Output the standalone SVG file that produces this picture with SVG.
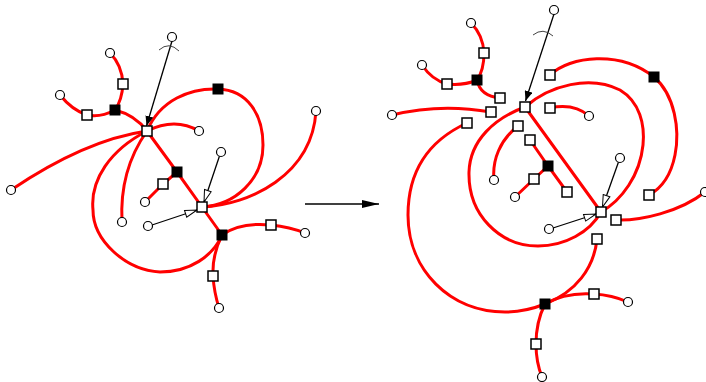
<svg xmlns="http://www.w3.org/2000/svg" width="706" height="382" viewBox="0 0 706 382">
<style>
.e{fill:none;stroke:#ff0000;stroke-width:3;stroke-linecap:round}
.a{fill:none;stroke:#000;stroke-width:1.3}
.t{fill:none;stroke:#444;stroke-width:1}
.o{fill:#fff;stroke:#000;stroke-width:1.5}
.b{fill:#000;stroke:#000;stroke-width:1}
.c{fill:#fff;stroke:#000;stroke-width:1.2}
</style>
<defs>
<marker id="af" viewBox="0 0 10 8" refX="10" refY="4" markerWidth="10" markerHeight="8" orient="auto" markerUnits="userSpaceOnUse"><path d="M0,0 L10,4 L0,8 z" fill="#000"/></marker>
<marker id="ao" viewBox="0 0 14 9" refX="13" refY="4.5" markerWidth="14" markerHeight="9" orient="auto" markerUnits="userSpaceOnUse"><path d="M1,1 L13,4.5 L1,8 z" fill="#fff" stroke="#000" stroke-width="1"/></marker>
<marker id="am" viewBox="0 0 17 8" refX="17" refY="4" markerWidth="17" markerHeight="8" orient="auto" markerUnits="userSpaceOnUse"><path d="M0,0 L17,4 L0,8 z" fill="#000"/></marker>
</defs>
<g id="connectors">
<!-- left diagram -->
<path class="e" d="M60,95 Q72,110 87,115 Q100,118 115,110"/>
<path class="e" d="M110,53 Q122,65 123,84 Q122,100 115,110"/>
<path class="e" d="M115,110 Q135,115 147,131"/>
<path class="e" d="M147,131 Q85,140 11,190"/>
<path class="e" d="M147,131 Q175,117 199,131"/>
<path class="e" d="M147,131 C160,100 190,88 218,89 C248,90 263,115 263,145 C263,180 235,205 202,207"/>
<path class="e" d="M202,207 C250,205 312,175 316,111"/>
<path class="e" d="M147,131 L177,172 L202,207"/>
<path class="e" d="M177,172 L163,184 L145,202"/>
<path class="e" d="M202,207 L222,235"/>
<path class="e" d="M222,235 Q240,222 271,225 Q290,227 305,233"/>
<path class="e" d="M222,235 Q212,255 213,276 Q214,292 219,308"/>
<path class="e" d="M147,131 C130,155 120,185 122,222"/>
<path class="e" d="M147,131 C110,150 90,180 93,210 C93,240 125,270 160,272 C190,272 213,256 222,235"/>
<path class="a" d="M172,41 L146.5,126" marker-end="url(#af)"/>
<path class="a" d="M219.5,156 L204,202" marker-end="url(#ao)"/>
<path class="a" d="M152,225 L197,210" marker-end="url(#ao)"/>
<path class="t" d="M159,50 Q169,41 179,51"/>
<!-- middle arrow -->
<path class="a" d="M305,204 L379,204" marker-end="url(#am)"/>
<!-- right diagram -->
<path class="e" d="M471,23 Q483,35 484,53 Q484,70 477,80"/>
<path class="e" d="M422,65 Q432,80 447,84 Q463,86 477,80"/>
<path class="e" d="M477,80 Q480,96 500,98"/>
<path class="e" d="M392,115 Q440,103 491,112"/>
<path class="e" d="M467,123 C430,140 408,170 408,215 C408,270 450,312 505,312 C520,312 535,308 545,304"/>
<path class="e" d="M525,107 C495,118 470,140 469,172 C468,215 500,246 538,246 C565,246 590,232 601,212"/>
<path class="e" d="M525,107 C550,85 590,75 620,90 C640,102 645,125 643,145 C640,175 622,200 601,212"/>
<path class="e" d="M525,107 L601,212"/>
<path class="e" d="M550,75 C570,56 620,50 654,77 C675,95 680,130 675,155 C671,175 662,188 649,195"/>
<path class="e" d="M550,108 Q574,103 589,116"/>
<path class="e" d="M518,126 C500,140 492,160 494,180"/>
<path class="e" d="M530,140 L548,166 L567,192"/>
<path class="e" d="M548,166 L534,179 L515,197"/>
<path class="e" d="M616,220 C640,221 680,212 705,192"/>
<path class="e" d="M597,239 C594,268 576,292 545,304"/>
<path class="e" d="M545,304 Q565,292 594,294 Q612,295 628,302"/>
<path class="e" d="M545,304 Q536,322 536,344 Q536,362 542,377"/>
<path class="a" d="M554,14 L525.5,101" marker-end="url(#af)"/>
<path class="a" d="M618.5,162 L602.5,207" marker-end="url(#ao)"/>
<path class="a" d="M553,228 L596,214" marker-end="url(#ao)"/>
<path class="t" d="M533,35 Q543,27 553,36"/>
</g>
<!-- left nodes -->
<g id="L-hub1"><rect class="o" x="142" y="126" width="10" height="10"/></g>
<g id="L-hub2"><rect class="o" x="197" y="202" width="10" height="10"/></g>
<g id="L-b1"><rect class="b" x="110" y="105" width="10" height="10"/></g>
<g id="L-s1"><rect class="o" x="118" y="79" width="10" height="10"/></g>
<g id="L-c1"><circle class="c" cx="110" cy="53" r="4.5"/></g>
<g id="L-s2"><rect class="o" x="82" y="110" width="10" height="10"/></g>
<g id="L-c2"><circle class="c" cx="60" cy="95" r="4.5"/></g>
<g id="L-c3"><circle class="c" cx="11" cy="190" r="4.5"/></g>
<g id="L-c4"><circle class="c" cx="199" cy="131" r="4.5"/></g>
<g id="L-b2"><rect class="b" x="213" y="84" width="10" height="10"/></g>
<g id="L-c5"><circle class="c" cx="316" cy="111" r="4.5"/></g>
<g id="L-b3"><rect class="b" x="172" y="167" width="10" height="10"/></g>
<g id="L-s3"><rect class="o" x="158" y="179" width="10" height="10"/></g>
<g id="L-c6"><circle class="c" cx="145" cy="202" r="4.5"/></g>
<g id="L-c7"><circle class="c" cx="122" cy="222" r="4.5"/></g>
<g id="L-b4"><rect class="b" x="217" y="230" width="10" height="10"/></g>
<g id="L-s4"><rect class="o" x="266" y="220" width="10" height="10"/></g>
<g id="L-c8"><circle class="c" cx="305" cy="233" r="4.5"/></g>
<g id="L-s5"><rect class="o" x="208" y="271" width="10" height="10"/></g>
<g id="L-c9"><circle class="c" cx="219" cy="308" r="4.5"/></g>
<g id="L-c10"><circle class="c" cx="221" cy="152" r="4.5"/></g>
<g id="L-c11"><circle class="c" cx="148" cy="226" r="4.5"/></g>
<g id="L-c12"><circle class="c" cx="172" cy="37" r="4.5"/></g>
<!-- right nodes -->
<g id="R-hub1"><rect class="o" x="520" y="102" width="10" height="10"/></g>
<g id="R-hub2"><rect class="o" x="596" y="207" width="10" height="10"/></g>
<g id="R-c12"><circle class="c" cx="554" cy="10" r="4.5"/></g>
<g id="R-c1"><circle class="c" cx="471" cy="23" r="4.5"/></g>
<g id="R-s1"><rect class="o" x="479" y="48" width="10" height="10"/></g>
<g id="R-b1"><rect class="b" x="472" y="75" width="10" height="10"/></g>
<g id="R-c2"><circle class="c" cx="422" cy="65" r="4.5"/></g>
<g id="R-s2"><rect class="o" x="442" y="79" width="10" height="10"/></g>
<g id="R-s6"><rect class="o" x="495" y="93" width="10" height="10"/></g>
<g id="R-c3"><circle class="c" cx="392" cy="115" r="4.5"/></g>
<g id="R-s7"><rect class="o" x="486" y="107" width="10" height="10"/></g>
<g id="R-s8"><rect class="o" x="462" y="118" width="10" height="10"/></g>
<g id="R-s9"><rect class="o" x="545" y="70" width="10" height="10"/></g>
<g id="R-b2"><rect class="b" x="649" y="72" width="10" height="10"/></g>
<g id="R-s10"><rect class="o" x="644" y="190" width="10" height="10"/></g>
<g id="R-s11"><rect class="o" x="545" y="103" width="10" height="10"/></g>
<g id="R-c4"><circle class="c" cx="589" cy="116" r="4.5"/></g>
<g id="R-s12"><rect class="o" x="513" y="121" width="10" height="10"/></g>
<g id="R-c7"><circle class="c" cx="494" cy="180" r="4.5"/></g>
<g id="R-s13"><rect class="o" x="525" y="135" width="10" height="10"/></g>
<g id="R-b3"><rect class="b" x="543" y="161" width="10" height="10"/></g>
<g id="R-s14"><rect class="o" x="562" y="187" width="10" height="10"/></g>
<g id="R-s3"><rect class="o" x="529" y="174" width="10" height="10"/></g>
<g id="R-c6"><circle class="c" cx="515" cy="197" r="4.5"/></g>
<g id="R-c10"><circle class="c" cx="620" cy="158" r="4.5"/></g>
<g id="R-c11"><circle class="c" cx="549" cy="229" r="4.5"/></g>
<g id="R-s15"><rect class="o" x="611" y="215" width="10" height="10"/></g>
<g id="R-c5"><circle class="c" cx="705" cy="192" r="4.5"/></g>
<g id="R-s16"><rect class="o" x="592" y="234" width="10" height="10"/></g>
<g id="R-b4"><rect class="b" x="540" y="299" width="10" height="10"/></g>
<g id="R-s4"><rect class="o" x="589" y="289" width="10" height="10"/></g>
<g id="R-c8"><circle class="c" cx="628" cy="302" r="4.5"/></g>
<g id="R-s5"><rect class="o" x="531" y="339" width="10" height="10"/></g>
<g id="R-c9"><circle class="c" cx="542" cy="377" r="4.5"/></g>
</svg>
